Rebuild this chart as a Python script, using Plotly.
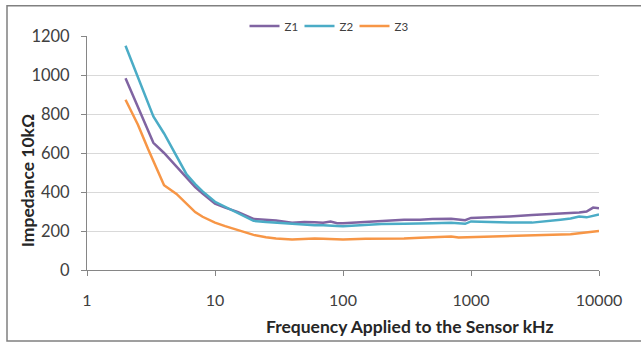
import plotly.graph_objects as go

freq = [2, 2.5, 3, 3.3, 4, 5, 6, 7, 8, 10, 12, 15, 20, 25, 30, 40, 50, 60, 70, 80, 90,
        100, 150, 200, 300, 400, 500, 700, 800, 900, 1000, 1500, 2000, 3000, 4000,
        5000, 6000, 7000, 8000, 9000, 10000]

z1 = [983, 832, 715, 652, 600, 530, 468, 425, 392, 340, 320, 298, 262, 256, 254, 242, 246,
      245, 242, 249, 240, 240, 248, 253, 258, 258, 262, 263, 258, 255, 267, 270, 275,
      282, 286, 290, 292, 295, 300, 320, 317]

z2 = [1150, 985, 855, 788, 700, 588, 490, 440, 403, 350, 325, 292, 252, 246, 242, 237, 233,
      230, 229, 229, 226, 224, 233, 236, 237, 237, 240, 242, 238, 237, 249, 245, 243,
      243, 250, 258, 264, 274, 270, 278, 285]

z3 = [873, 745, 620, 561, 435, 390, 339, 297, 273, 243, 225, 205, 180, 168, 162, 157, 160,
      161, 160, 158, 156, 157, 160, 161, 161, 166, 169, 172, 167, 168, 170, 172, 175,
      178, 180, 181, 183, 188, 192, 195, 200]

series = [("Z1", z1, "#8064A2"), ("Z2", z2, "#4BACC6"), ("Z3", z3, "#F79646")]

x_ticks = [1, 10, 100, 1000, 10000]
y_ticks = [0, 200, 400, 600, 800, 1000, 1200]

x_title = "Frequency Applied to the Sensor kHz"
y_title = "Impedance 10kΩ"

fig = go.Figure()
for name, vals, col in series:
    fig.add_trace(go.Scatter(x=freq, y=vals, name=name, mode="lines",
                             line=dict(color=col, width=2.5)))

W, H = 641, 343
L, R, T, B = 87, 42, 34, 73
pw, ph = W - L - R, H - T - B

def px(xp):
    return (xp - L) / pw

def py(yp):
    return (H - B - yp) / ph

font = "Lato, 'Open Sans', sans-serif"

fig.update_layout(
    width=W, height=H,
    margin=dict(l=L, r=R, t=T, b=B),
    paper_bgcolor="white", plot_bgcolor="white",
    font=dict(family=font, color="#404040"),
    showlegend=True,
    legend=dict(orientation="h", x=px(327), y=py(24), xanchor="center", yanchor="middle",
                font=dict(size=11.5, color="#404040"), itemwidth=30, entrywidth=10,
                entrywidthmode="pixels", bgcolor="rgba(0,0,0,0)"),
    xaxis=dict(type="log", range=[0, 4], tickvals=x_ticks, ticktext=[str(v) for v in x_ticks],
               showgrid=False, zeroline=False, showline=True, linecolor="#868686", linewidth=1,
               ticks="outside", ticklen=5, tickcolor="#868686",
               tickfont=dict(size=16, color="#404040"), ticklabelstandoff=11),
    yaxis=dict(range=[0, 1200], tickvals=y_ticks, showgrid=True, gridcolor="#d9d9d9",
               gridwidth=1, zeroline=False, showline=True, linecolor="#868686", linewidth=1,
               ticks="outside", ticklen=5, tickcolor="#868686",
               tickfont=dict(size=16.5, color="#404040"), ticklabelstandoff=8),
    annotations=[
        dict(text="<b>" + x_title + "</b>", xref="paper", yref="paper",
             x=px(409), y=py(327), xanchor="center", yanchor="middle", showarrow=False,
             font=dict(size=17.5, color="#262626")),
        dict(text="<b>" + y_title + "</b>", xref="paper", yref="paper",
             x=px(27), y=py(180.5), xanchor="center", yanchor="middle", showarrow=False,
             textangle=-90, font=dict(size=17.5, color="#262626")),
    ],
    shapes=[dict(type="rect", xref="paper", yref="paper",
                 x0=px(7), x1=px(660), y0=py(341.5), y1=py(3.5),
                 line=dict(color="#808080", width=1.5), fillcolor="rgba(0,0,0,0)",
                 layer="below")],
)

fig.write_html("out.html")
